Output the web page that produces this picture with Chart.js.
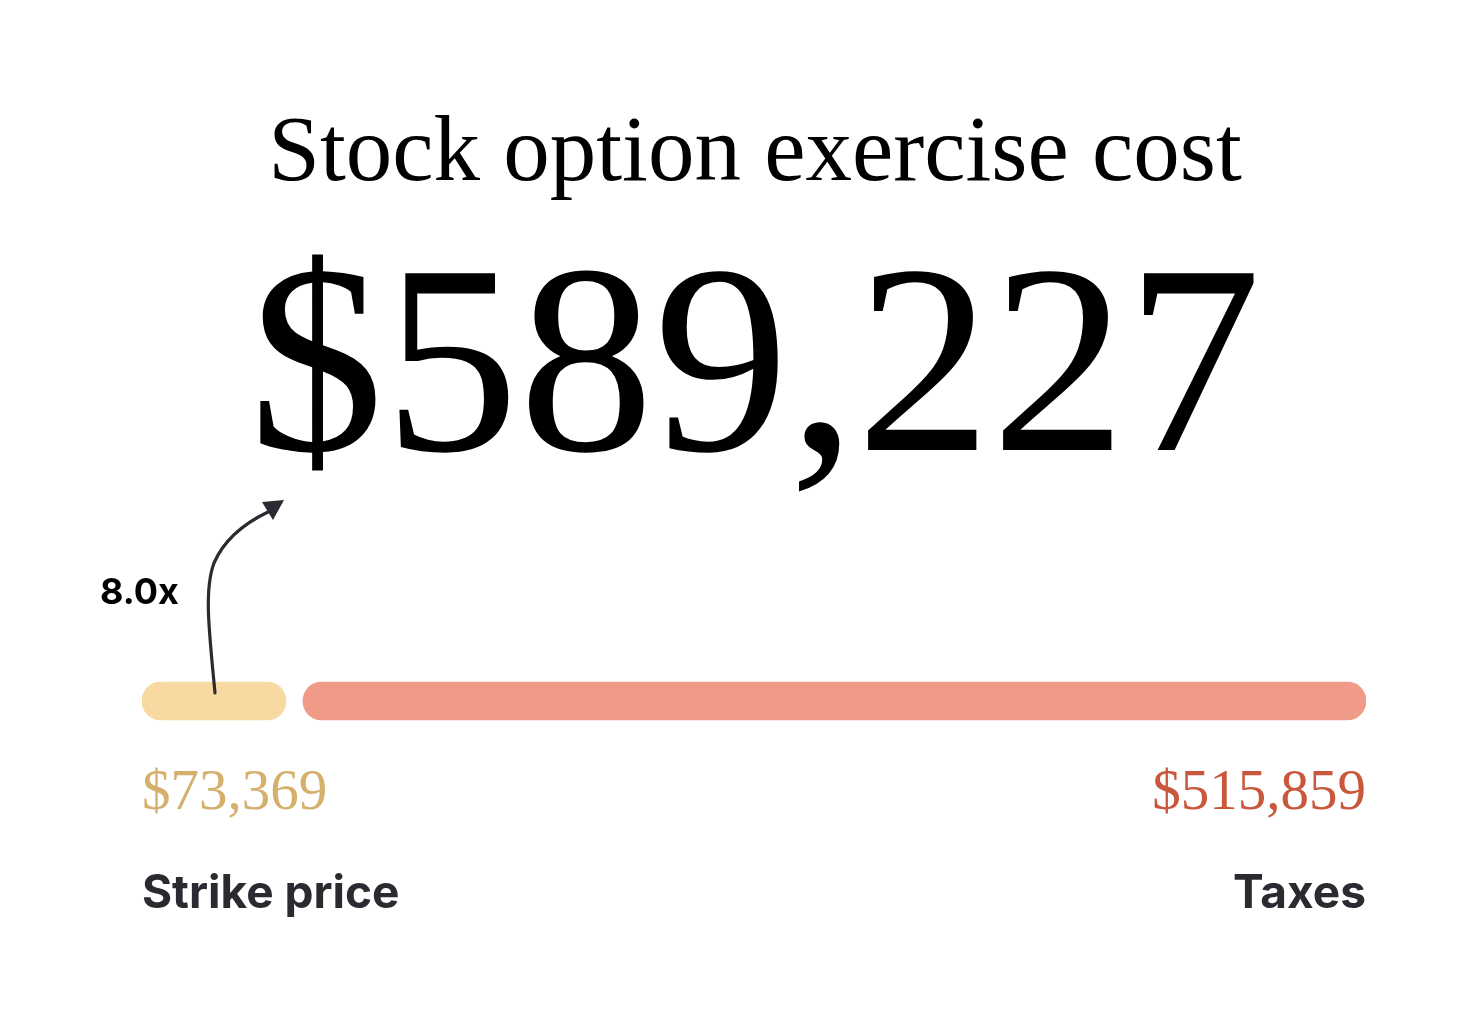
<!DOCTYPE html>
<html>
<head>
<meta charset="utf-8">
<script src="https://cdn.jsdelivr.net/npm/chart.js@4.4.1/dist/chart.umd.min.js"></script>
<style>
  html, body { margin: 0; padding: 0; background: #fff; }
  #wrap { width: 1468px; height: 1022px; }
</style>
</head>
<body>
<div id="wrap"><canvas id="grafico" width="1468" height="1022"></canvas></div>
<script>
// ========== DADOS ==========
const titulo = 'Stock option exercise cost';
const categorias = ['Strike price', 'Taxes'];
const valores = [73369, 515859];
const totalExibido = 589227; // valor como aparece no topo
const cores = ['#f8d9a1', '#f09a88'];
const coresTexto = ['#d4b06c', '#c9573b'];

const soma = valores.reduce((a, b) => a + b, 0);
const fmt = v => '$' + v.toLocaleString('en-US');
const multiplo = (totalExibido / valores[0]).toFixed(1) + 'x';

const GAP = 17;
const SERIF = '"Liberation Serif", "DejaVu Serif", serif';
const SANS = 'Inter, "Noto Sans", sans-serif';

// separa os dois segmentos e desenha textos + seta
const rotulos = {
  id: 'rotulos',
  afterDatasetsUpdate(chart) {
    const a = chart.getDatasetMeta(0).data[0];
    const b = chart.getDatasetMeta(1).data[0];
    a.x -= GAP / 2;
    b.base += GAP / 2;
  },
  afterDraw(chart) {
    const ctx = chart.ctx;
    const area = chart.chartArea;
    const barra = chart.getDatasetMeta(0).data[0];
    ctx.save();

    // titulo
    ctx.fillStyle = '#000';
    ctx.textAlign = 'center';
    ctx.textBaseline = 'alphabetic';
    ctx.font = '400 93px ' + SERIF;
    ctx.fillText(titulo, 755, 180);

    // total
    ctx.font = '400 270px ' + SERIF;
    ctx.fillText(fmt(totalExibido), 755, 450);

    // valores
    ctx.font = '400 57px ' + SERIF;
    ctx.textAlign = 'left';
    ctx.fillStyle = coresTexto[0];
    ctx.fillText(fmt(valores[0]), area.left, 809);
    ctx.textAlign = 'right';
    ctx.fillStyle = coresTexto[1];
    ctx.fillText(fmt(valores[1]), area.right, 809);

    // categorias
    ctx.font = '700 46px ' + SANS;
    ctx.fillStyle = '#2a2b30';
    ctx.textAlign = 'left';
    ctx.fillText(categorias[0], area.left, 908);
    ctx.textAlign = 'right';
    ctx.fillText(categorias[1], area.right, 908);

    // multiplo
    ctx.font = '700 36px ' + SANS;
    ctx.fillStyle = '#000';
    ctx.textAlign = 'left';
    ctx.fillText(multiplo, 100, 604);

    // seta
    const x0 = 215, y0 = barra.y - 8;
    ctx.strokeStyle = '#2a2b30';
    ctx.lineWidth = 3.2;
    ctx.lineCap = 'round';
    ctx.beginPath();
    ctx.moveTo(x0, y0);
    ctx.bezierCurveTo(209, 630, 204, 590, 214, 563);
    ctx.bezierCurveTo(224, 540, 245, 523, 268, 512);
    ctx.stroke();
    ctx.fillStyle = '#2a2b30';
    ctx.beginPath();
    ctx.moveTo(284, 500);
    ctx.lineTo(262, 502);
    ctx.lineTo(273, 520);
    ctx.closePath();
    ctx.fill();

    ctx.restore();
  }
};

new Chart(document.getElementById('grafico'), {
  type: 'bar',
  data: {
    labels: ['custo'],
    datasets: categorias.map((c, i) => ({
      label: c,
      data: [valores[i]],
      backgroundColor: cores[i],
      borderWidth: 0,
      borderSkipped: false,
      borderRadius: { topLeft: 19, topRight: 19, bottomLeft: 19, bottomRight: 19 },
      barThickness: 38
    }))
  },
  options: {
    indexAxis: 'y',
    responsive: false,
    animation: false,
    layout: { padding: { left: 142, right: 102, top: 660, bottom: 280 } },
    scales: {
      x: { stacked: true, min: 0, max: soma, display: false },
      y: { stacked: true, display: false }
    },
    plugins: {
      legend: { display: false },
      tooltip: { enabled: false }
    }
  },
  plugins: [rotulos]
});
</script>
</body>
</html>
